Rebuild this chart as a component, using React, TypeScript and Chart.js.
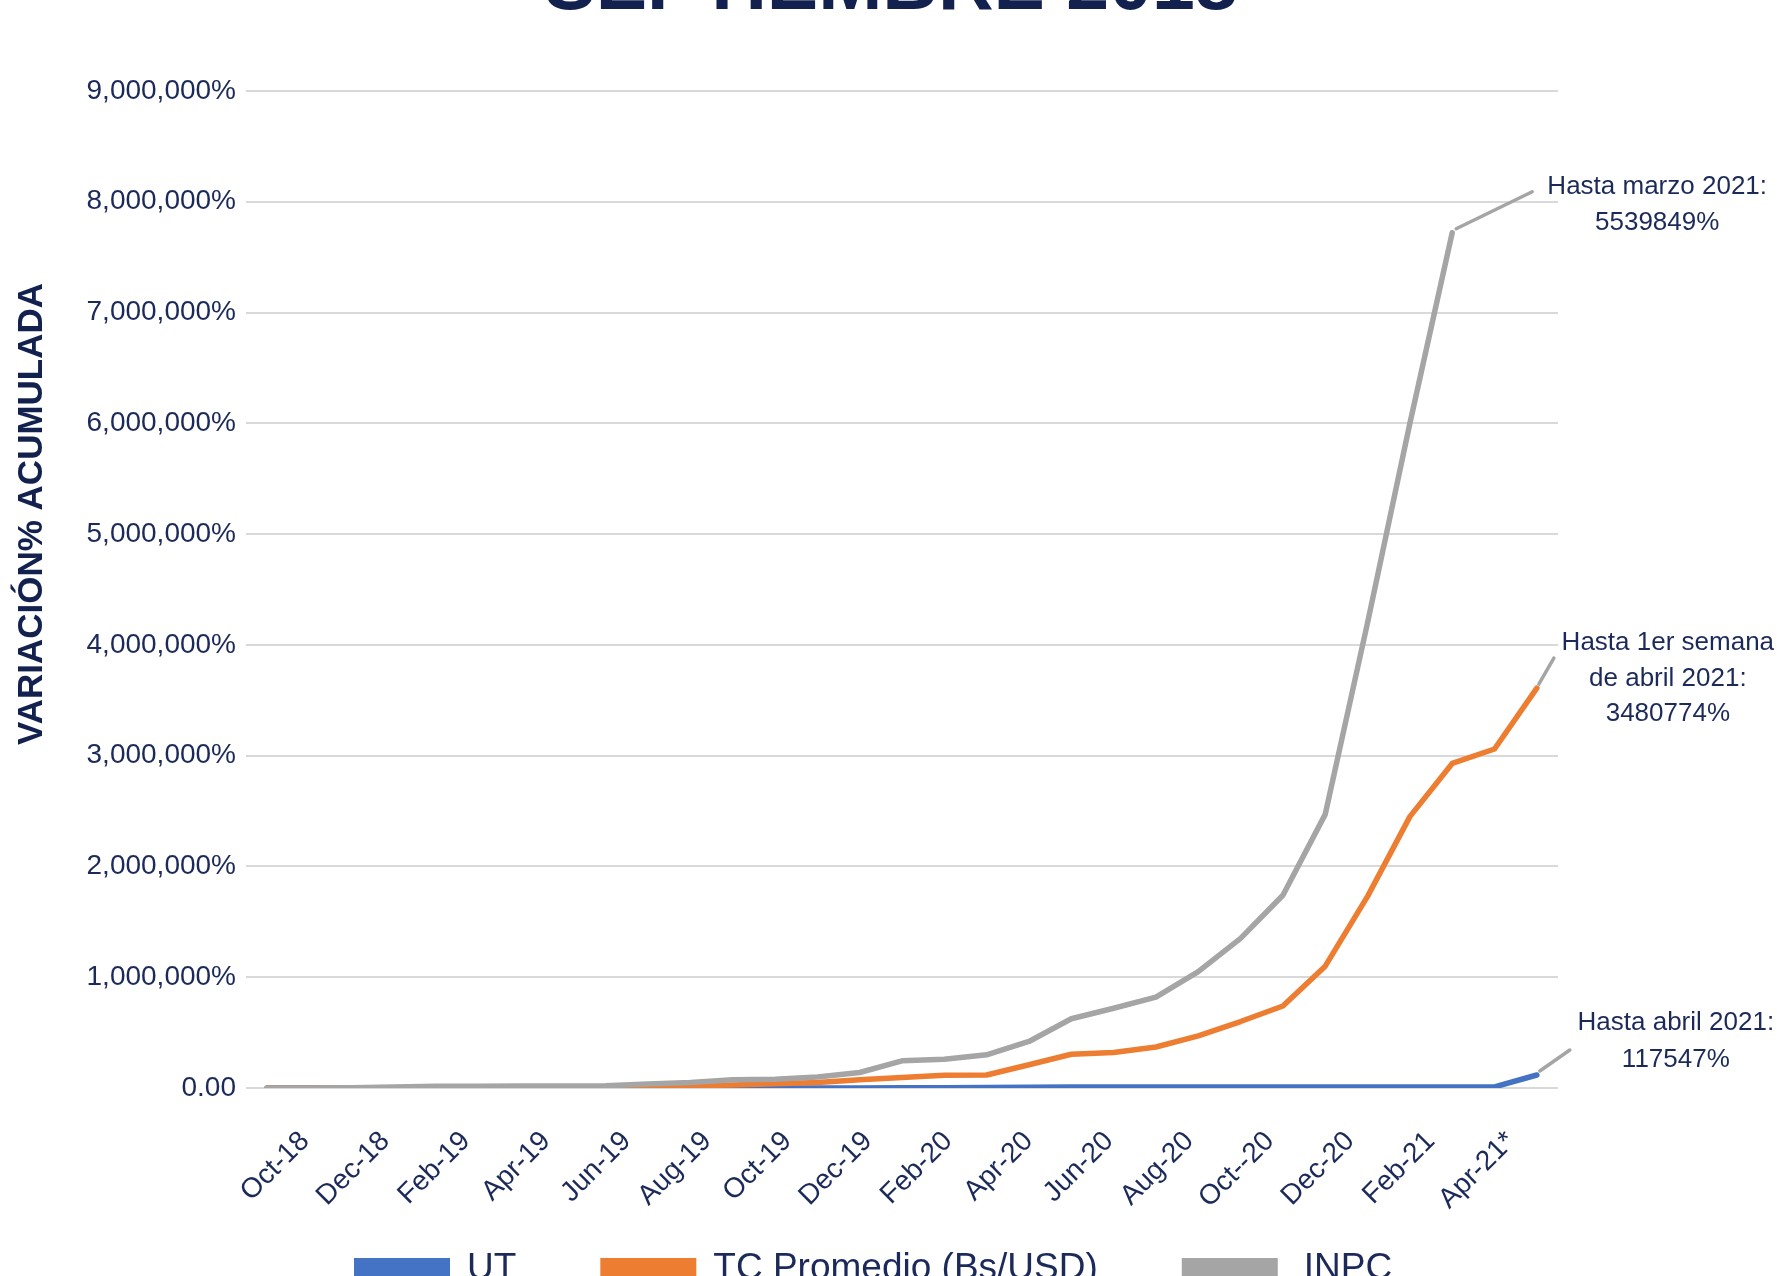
import { useEffect, useRef } from 'react';
import { Chart, registerables } from 'chart.js';

Chart.register(...registerables);

// ---- data ----
const months = [
  'Oct-18', 'Nov-18', 'Dec-18', 'Jan-19', 'Feb-19', 'Mar-19', 'Apr-19', 'May-19', 'Jun-19', 'Jul-19',
  'Aug-19', 'Sep-19', 'Oct-19', 'Nov-19', 'Dec-19', 'Jan-20', 'Feb-20', 'Mar-20', 'Apr-20', 'May-20',
  'Jun-20', 'Jul-20', 'Aug-20', 'Sep-20', 'Oct-20', 'Nov-20', 'Dec-20', 'Jan-21', 'Feb-21', 'Mar-21', 'Apr-21',
];
const xTickLabels = [
  'Oct-18', 'Dec-18', 'Feb-19', 'Apr-19', 'Jun-19', 'Aug-19', 'Oct-19', 'Dec-19',
  'Feb-20', 'Apr-20', 'Jun-20', 'Aug-20', 'Oct--20', 'Dec-20', 'Feb-21', 'Apr-21*',
];
const utValues = [
  0, 0, 0, 0, 0, 0, 0, 0, 0, 0, 0, 0, 0, 0, 1000, 2000, 3000, 4000, 6000, 8000,
  9000, 10000, 10000, 10000, 10000, 10000, 10000, 10000, 10000, 10000, 117547,
];
const tcValues = [
  0, 0, 0, 1000, 2000, 3000, 4000, 5000, 8000, 12000, 18000, 28000, 38000, 50000, 75000, 95000,
  115000, 117000, 210000, 305000, 320000, 370000, 470000, 600000, 740000, 1100000, 1730000,
  2450000, 2930000, 3060000, 3610000,
];
const inpcValues = [
  0, 0, 3000, 10000, 15000, 16000, 17000, 18000, 20000, 35000, 50000, 75000, 80000, 100000, 140000,
  245000, 260000, 300000, 420000, 625000, 720000, 820000, 1050000, 1350000, 1740000, 2470000,
  4200000, 6000000, 7720000, null, null,
];
const seriesLabels = ['UT', 'TC Promedio (Bs/USD)', 'INPC'];
const seriesColors = ['#4472c4', '#ed7d31', '#a5a5a5'];
const yMax = 9000000;
const yStep = 1000000;
const titleText = 'SEPTIEMBRE 2018';
const yAxisTitle = 'VARIACIÓN% ACUMULADA';
const annotationTexts = [
  ['Hasta marzo 2021:', '5539849%'],
  ['Hasta 1er semana', 'de abril 2021:', '3480774%'],
  ['Hasta abril 2021:', '117547%'],
];

// ---- styling / layout ----
const FONT = '"Liberation Sans", Arial, sans-serif';
const NAVY = '#1c2a5a';
const TITLE_NAVY = '#13214f';
const annotationLayout = [
  { dataset: 2, line: [4, -4, 80, -41], text: [205, -46], gap: 36 },
  { dataset: 1, line: [2, -4, 17, -30], text: [131, -45], gap: 35.5 },
  { dataset: 0, line: [3, -4, 33, -25], text: [139, -52], gap: 37 },
];
const legendTextGap = [17, 17, 26];

const decorPlugin = {
  id: 'decor',
  afterDraw(chart: any) {
    const ctx = chart.ctx as CanvasRenderingContext2D;
    ctx.save();
    // cut-off title
    ctx.fillStyle = TITLE_NAVY;
    ctx.font = `bold 77px ${FONT}`;
    ctx.textAlign = 'center';
    ctx.textBaseline = 'alphabetic';
    ctx.fillText(titleText, 891, 9);

    // y axis title
    ctx.save();
    ctx.translate(42, 514);
    ctx.rotate(-Math.PI / 2);
    ctx.font = `bold 35px ${FONT}`;
    ctx.textAlign = 'center';
    ctx.textBaseline = 'alphabetic';
    ctx.fillText(yAxisTitle, 0, 0);
    ctx.restore();

    // annotations
    annotationLayout.forEach((a, k) => {
      const meta = chart.getDatasetMeta(a.dataset);
      const ds = chart.data.datasets[a.dataset].data as (number | null)[];
      let last = ds.length - 1;
      while (last > 0 && ds[last] == null) last--;
      const pt = meta.data[last];
      const px = pt.x;
      const py = pt.y;
      ctx.strokeStyle = '#a5a5a5';
      ctx.lineWidth = 3.5;
      ctx.lineCap = 'round';
      ctx.beginPath();
      ctx.moveTo(px + a.line[0], py + a.line[1]);
      ctx.lineTo(px + a.line[2], py + a.line[3]);
      ctx.stroke();
      ctx.fillStyle = NAVY;
      ctx.font = `26px ${FONT}`;
      ctx.textAlign = 'center';
      ctx.textBaseline = 'middle';
      annotationTexts[k].forEach((t, j) => {
        ctx.fillText(t, px + a.text[0], py + a.text[1] + j * a.gap);
      });
    });

    // legend
    ctx.font = `37px ${FONT}`;
    ctx.textAlign = 'left';
    ctx.textBaseline = 'alphabetic';
    let x = 354;
    chart.data.datasets.forEach((d: any, i: number) => {
      ctx.fillStyle = d.borderColor;
      ctx.fillRect(x, 1258, 96, 30);
      x += 96 + legendTextGap[i];
      ctx.fillStyle = NAVY;
      ctx.fillText(d.label, x, 1278.5);
      x += ctx.measureText(d.label).width + 84;
    });
    ctx.restore();
  },
};

export default function App() {
  const ref = useRef<HTMLCanvasElement | null>(null);
  useEffect(() => {
    if (!ref.current) return;
    const values = [utValues, tcValues, inpcValues];
    const chart = new Chart(ref.current, {
      type: 'line',
      data: {
        labels: months,
        datasets: values.map((v, i) => ({
          label: seriesLabels[i],
          data: v,
          borderColor: seriesColors[i],
          backgroundColor: seriesColors[i],
          borderWidth: 5.5,
          pointRadius: 0,
          pointHoverRadius: 0,
          tension: 0,
          borderJoinStyle: 'round',
          borderCapStyle: 'round',
          order: 2 - i,
          xAxisID: 'x',
          yAxisID: 'y',
        })),
      },
      options: {
        responsive: false,
        animation: false,
        devicePixelRatio: 1,
        layout: { padding: { top: 91, right: 219, left: 0, bottom: 0 } },
        plugins: { legend: { display: false }, tooltip: { enabled: false }, title: { display: false } },
        scales: {
          x: { type: 'category', offset: true, display: false },
          x2: {
            type: 'linear',
            position: 'bottom',
            min: -0.733,
            max: 15.585,
            grid: { display: false },
            border: { display: false },
            afterBuildTicks: (scale: any) => {
              scale.ticks = xTickLabels.map((_, i) => ({ value: i }));
            },
            afterFit: (scale: any) => {
              scale.height = 188;
            },
            ticks: {
              autoSkip: false,
              minRotation: 45,
              maxRotation: 45,
              padding: 29,
              color: NAVY,
              font: { family: FONT, size: 28 },
              callback: (v: any) => xTickLabels[v] ?? '',
            },
          },
          y: {
            min: 0,
            max: yMax,
            grid: { color: '#d9d9d9', lineWidth: 2, drawTicks: false },
            border: { display: false },
            afterFit: (scale: any) => {
              scale.width = 246;
            },
            ticks: {
              stepSize: yStep,
              padding: 10,
              color: NAVY,
              font: { family: FONT, size: 28 },
              callback: (v: any) => (v === 0 ? '0.00' : Number(v).toLocaleString('en-US') + '%'),
            },
          },
        },
      } as any,
      plugins: [decorPlugin],
    });
    return () => chart.destroy();
  }, []);
  return (
    <div style={{ position: 'absolute', left: 0, top: 0, width: 1777, height: 1276, background: '#fff' }}>
      <canvas ref={ref} width={1777} height={1276} style={{ display: 'block' }} />
    </div>
  );
}
